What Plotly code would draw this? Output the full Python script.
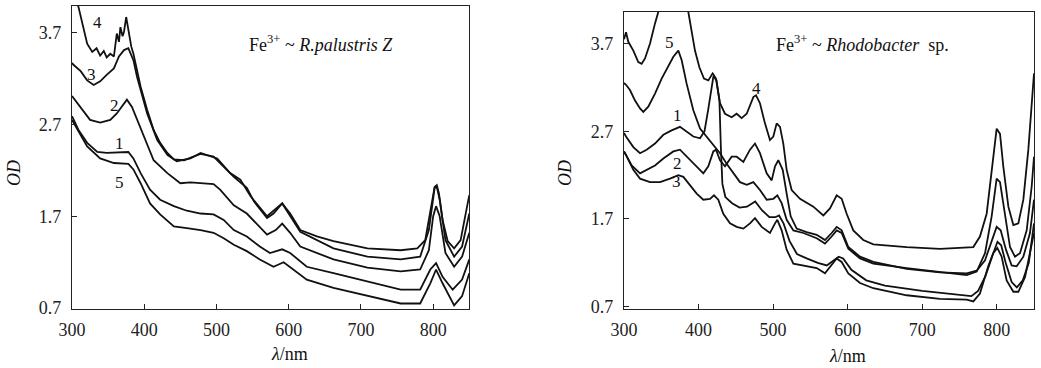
import plotly.graph_objects as go

# ---------------- Left panel: Fe3+ ~ R.palustris Z ----------------
L4_x = [300, 305, 309, 314, 321, 328, 334, 339, 344, 348, 353, 358, 362, 365, 367, 370, 372, 375, 378, 382, 385, 390, 395, 404, 413, 422, 432, 441, 455, 468, 478, 496, 505, 524, 542, 552, 570, 579, 591, 602, 616, 639, 662, 709, 755, 778, 789, 796, 802, 805, 808, 813, 820, 829, 838, 847, 850]
L4_y = [4.25, 4.05, 3.98, 3.80, 3.58, 3.49, 3.53, 3.45, 3.50, 3.43, 3.47, 3.44, 3.69, 3.60, 3.76, 3.66, 3.71, 3.87, 3.73, 3.55, 3.47, 3.29, 3.11, 2.86, 2.64, 2.50, 2.39, 2.32, 2.31, 2.35, 2.38, 2.35, 2.28, 2.13, 2.01, 1.86, 1.68, 1.73, 1.84, 1.73, 1.55, 1.48, 1.43, 1.35, 1.33, 1.35, 1.44, 1.73, 2.02, 2.04, 1.95, 1.66, 1.43, 1.35, 1.44, 1.81, 1.93]

L3_x = [300, 302, 312, 321, 330, 339, 348, 358, 365, 372, 378, 385, 390, 404, 418, 432, 445, 464, 478, 501, 519, 533, 547, 570, 591, 616, 662, 709, 755, 782, 794, 802, 805, 809, 817, 829, 840, 850]
L3_y = [3.37, 3.35, 3.28, 3.18, 3.13, 3.17, 3.24, 3.31, 3.44, 3.51, 3.53, 3.40, 3.22, 2.82, 2.53, 2.37, 2.30, 2.33, 2.39, 2.33, 2.17, 2.10, 1.92, 1.70, 1.84, 1.53, 1.35, 1.26, 1.23, 1.26, 1.55, 2.01, 2.02, 1.88, 1.44, 1.26, 1.37, 1.73]

L2_x = [300, 301, 312, 325, 339, 353, 362, 372, 376, 383, 390, 399, 413, 432, 450, 464, 478, 496, 505, 524, 542, 556, 570, 582, 591, 602, 616, 662, 709, 755, 782, 794, 800, 804, 809, 817, 829, 840, 850]
L2_y = [3.01, 3.00, 2.89, 2.75, 2.72, 2.75, 2.82, 2.93, 2.97, 2.89, 2.75, 2.57, 2.31, 2.17, 2.06, 2.07, 2.06, 2.05, 1.99, 1.82, 1.73, 1.62, 1.50, 1.55, 1.62, 1.52, 1.37, 1.23, 1.14, 1.10, 1.12, 1.33, 1.70, 1.81, 1.70, 1.30, 1.15, 1.26, 1.52]

L1_x = [300, 309, 321, 335, 348, 372, 378, 385, 395, 408, 422, 441, 459, 478, 496, 510, 524, 542, 560, 574, 591, 602, 625, 662, 709, 755, 782, 796, 804, 813, 827, 840, 850]
L1_y = [2.79, 2.64, 2.50, 2.40, 2.39, 2.40, 2.40, 2.33, 2.17, 1.99, 1.88, 1.81, 1.76, 1.73, 1.72, 1.66, 1.55, 1.48, 1.37, 1.30, 1.34, 1.30, 1.15, 1.08, 0.99, 0.90, 0.90, 1.12, 1.19, 1.04, 0.90, 1.01, 1.23]

L5_x = [300, 309, 321, 339, 358, 378, 385, 395, 408, 422, 441, 459, 478, 496, 510, 524, 542, 560, 579, 593, 607, 625, 662, 709, 755, 782, 796, 804, 813, 829, 840, 850]
L5_y = [2.75, 2.62, 2.46, 2.33, 2.28, 2.27, 2.21, 2.06, 1.84, 1.72, 1.59, 1.57, 1.55, 1.52, 1.46, 1.39, 1.32, 1.23, 1.15, 1.20, 1.12, 1.01, 0.92, 0.83, 0.75, 0.75, 0.97, 1.12, 0.97, 0.73, 0.83, 1.08]

# ---------------- Right panel: Fe3+ ~ Rhodobacter sp. ----------------
R4_x = [300, 302.7, 305.8, 312.5, 319.2, 323.7, 328.2, 334.9, 341.6, 346, 365, 375, 386.3, 390.8, 395.2, 401.1, 407.3, 413.1, 418.9, 423.4, 428.8, 435.5, 444.4, 451.1, 457.8, 464.6, 473.5, 477.1, 482.4, 489.1, 495.8, 500.3, 504.8, 509.3, 513.7, 518.2, 524.9, 536.1, 554, 567.4, 576.3, 585.3, 592, 598.7, 607.6, 621, 634.5, 679.2, 723.9, 768.6, 777.5, 786.5, 793.2, 799.9, 804.4, 808.8, 815.6, 822.3, 829, 835.7, 842.4, 846.9, 850]
R4_y = [3.75, 3.83, 3.72, 3.62, 3.49, 3.47, 3.53, 3.70, 3.93, 4.06, 4.40, 4.50, 4.06, 3.85, 3.62, 3.43, 3.30, 3.28, 3.36, 3.30, 3.02, 2.90, 2.86, 2.90, 2.85, 2.90, 3.09, 3.11, 3.02, 2.79, 2.60, 2.64, 2.79, 2.75, 2.56, 2.26, 2.03, 1.93, 1.84, 1.74, 1.82, 1.97, 1.93, 1.76, 1.57, 1.46, 1.41, 1.38, 1.36, 1.38, 1.50, 1.76, 2.22, 2.73, 2.67, 2.30, 1.84, 1.63, 1.65, 1.92, 2.49, 2.98, 3.36]

R5_x = [300, 302.7, 308, 314.8, 321.5, 325.9, 332.6, 341.6, 350.5, 359.5, 366.2, 372.9, 377.4, 384.1, 393, 402, 410.9, 419.8, 428.8, 437.7, 446.7, 455.6, 464.6, 473.5, 482.4, 491.4, 500.3, 505.7, 511.5, 518.2, 527.2, 540.6, 558.5, 569.6, 578.6, 585.3, 592, 600.9, 616.6, 634.5, 679.2, 723.9, 759.7, 773.1, 784.3, 793.2, 799.9, 804.4, 811.1, 817.8, 824.5, 831.2, 840.2, 846.9, 850]
R5_y = [3.25, 3.23, 3.17, 3.05, 2.96, 2.92, 2.98, 3.13, 3.30, 3.45, 3.55, 3.62, 3.51, 3.24, 2.94, 2.73, 2.64, 2.54, 2.45, 2.33, 2.22, 2.12, 2.09, 2.12, 2.03, 1.92, 1.93, 1.97, 1.88, 1.69, 1.57, 1.54, 1.48, 1.42, 1.50, 1.57, 1.54, 1.36, 1.25, 1.19, 1.14, 1.10, 1.06, 1.10, 1.31, 1.73, 2.16, 2.12, 1.73, 1.38, 1.27, 1.31, 1.57, 2.07, 2.41]

R2_x = [300, 302.7, 310.3, 321.5, 330.4, 341.6, 352.8, 366.2, 375.1, 384.1, 395.2, 406.4, 413.1, 419.8, 423.4, 428.8, 435.5, 444.4, 451.1, 460.1, 469, 475.7, 482.4, 491.4, 498.1, 502.6, 507, 512.9, 518.2, 523.6, 531.6, 545, 558.5, 569.6, 578.6, 585.3, 592, 600.9, 616.6, 634.5, 679.2, 723.9, 759.7, 773.1, 784.3, 793.2, 799.9, 805.3, 812.4, 820, 826.7, 835.7, 844.6, 850]
R2_y = [2.47, 2.43, 2.31, 2.22, 2.26, 2.31, 2.39, 2.47, 2.49, 2.41, 2.31, 2.22, 2.30, 2.47, 2.49, 2.37, 2.30, 2.41, 2.41, 2.35, 2.49, 2.56, 2.45, 2.22, 2.14, 2.30, 2.37, 2.26, 1.99, 1.73, 1.59, 1.55, 1.52, 1.46, 1.54, 1.61, 1.57, 1.38, 1.27, 1.21, 1.13, 1.09, 1.08, 1.11, 1.23, 1.46, 1.61, 1.57, 1.35, 1.17, 1.16, 1.27, 1.54, 1.92]

R1_x = [300, 302.7, 312.5, 321.5, 330.4, 341.6, 352.8, 363.9, 375.1, 384.1, 393, 402, 408, 413, 417, 420, 424, 428, 430, 432, 436, 445, 455, 465, 476, 485, 495, 503, 508, 514, 522, 532, 545, 560, 572, 580, 588, 594, 605, 625, 650, 700, 750, 766, 775, 785, 795, 801, 806, 812, 820, 827, 835, 843, 850]
R1_y = [2.68, 2.64, 2.52, 2.45, 2.49, 2.56, 2.66, 2.71, 2.75, 2.69, 2.64, 2.62, 2.70, 2.95, 3.20, 3.33, 3.28, 3.05, 2.50, 2.10, 1.95, 1.88, 1.83, 1.84, 1.90, 1.80, 1.72, 1.72, 1.74, 1.65, 1.45, 1.30, 1.25, 1.20, 1.17, 1.22, 1.27, 1.25, 1.12, 1.00, 0.94, 0.88, 0.84, 0.82, 0.88, 1.05, 1.30, 1.44, 1.40, 1.20, 0.98, 0.92, 1.00, 1.20, 1.65]

R3_x = [300, 302.7, 312.5, 321.5, 334.9, 348.3, 361.7, 372.9, 379.6, 388.5, 397.5, 406.4, 415.4, 420.7, 426.5, 433.2, 442.2, 451.1, 460.1, 469, 475.7, 484.7, 495.8, 502.6, 505.7, 511.5, 518.2, 527.2, 540.6, 558.5, 569.6, 578.6, 585.3, 592, 600.9, 616.6, 634.5, 679.2, 723.9, 759.7, 768.6, 777.5, 788.6, 795.3, 800.8, 806.6, 813.3, 822.3, 829, 838, 844.6, 850]
R3_y = [2.47, 2.43, 2.26, 2.16, 2.12, 2.12, 2.16, 2.20, 2.18, 2.09, 1.99, 1.92, 1.93, 1.97, 1.92, 1.76, 1.65, 1.61, 1.59, 1.65, 1.71, 1.61, 1.54, 1.65, 1.69, 1.57, 1.35, 1.19, 1.17, 1.14, 1.08, 1.17, 1.25, 1.21, 1.08, 0.97, 0.91, 0.83, 0.79, 0.78, 0.76, 0.85, 1.16, 1.31, 1.37, 1.27, 1.00, 0.87, 0.87, 1.04, 1.31, 1.54]

x_ticks = [300, 400, 500, 600, 700, 800]
y_ticks = [0.7, 1.7, 2.7, 3.7]
y_tick_text = ["0.7", "1.7", "2.7", "3.7"]

left_labels = [("4", 335.6, 3.815), ("3", 327.3, 3.247), ("2", 359.5, 2.91), ("1", 366.4, 2.497), ("5", 366.4, 2.07)]
right_labels = [("5", 361.7, 3.708), ("4", 478.0, 3.19), ("1", 372.4, 2.884), ("2", 372.0, 2.337), ("3", 369.8, 2.124)]

FONT = "Liberation Serif, Times New Roman, DejaVu Serif, serif"
LINE = dict(color="#111111", width=1.8)

fig = go.Figure()
for xs, ys in [(L4_x, L4_y), (L3_x, L3_y), (L2_x, L2_y), (L1_x, L1_y), (L5_x, L5_y)]:
    fig.add_trace(go.Scatter(x=xs, y=ys, mode="lines", line=LINE, xaxis="x", yaxis="y", showlegend=False))
for xs, ys in [(R4_x, R4_y), (R5_x, R5_y), (R2_x, R2_y), (R1_x, R1_y), (R3_x, R3_y)]:
    fig.add_trace(go.Scatter(x=xs, y=ys, mode="lines", line=LINE, xaxis="x2", yaxis="y2", showlegend=False))

axis_common = dict(showgrid=False, zeroline=False, showline=True, linecolor="#222", linewidth=1.2,
                   mirror=True, ticks="inside", ticklen=5, tickcolor="#222", automargin=False,
                   tickfont=dict(family=FONT, size=18, color="#222"))

fig.update_layout(
    width=1041, height=368,
    margin=dict(l=0, r=0, t=0, b=0, autoexpand=False),
    paper_bgcolor="white", plot_bgcolor="white",
    xaxis=dict(domain=[72/1041, 469.3/1041], range=[300, 850], tickvals=x_ticks, anchor="y", ticklabelstandoff=4, **axis_common),
    yaxis=dict(domain=[1-309/368, 1-6/368], range=[0.69, 3.99], tickvals=y_ticks, ticktext=y_tick_text, anchor="x", ticklabelstandoff=6, **axis_common),
    xaxis2=dict(domain=[624/1041, 1034/1041], range=[300, 850], tickvals=x_ticks, anchor="y2", ticklabelstandoff=4, **axis_common),
    yaxis2=dict(domain=[1-309.3/368, 1-12/368], range=[0.67, 4.06], tickvals=y_ticks, ticktext=y_tick_text, anchor="x2", ticklabelstandoff=6, **axis_common),
)

ann = []
for t, x, y in left_labels:
    ann.append(dict(text=t, x=x, y=y, xref="x", yref="y", showarrow=False, font=dict(family=FONT, size=17, color="#111")))
for t, x, y in right_labels:
    ann.append(dict(text=t, x=x, y=y, xref="x2", yref="y2", showarrow=False, font=dict(family=FONT, size=17, color="#111")))

ann.append(dict(text="Fe<sup>3+</sup> ~ <i>R.palustris Z</i>", x=644.5, y=3.58, xref="x", yref="y",
                showarrow=False, font=dict(family=FONT, size=18, color="#111")))
ann.append(dict(text="Fe<sup>3+</sup> ~ <i>Rhodobacter</i>  sp.", x=620.6, y=3.70, xref="x2", yref="y2",
                showarrow=False, font=dict(family=FONT, size=18, color="#111")))

for px, py in [(14, 173), (565, 173)]:
    ann.append(dict(text="<i>OD</i>", x=px/1041, y=1-py/368, xref="paper", yref="paper", textangle=-90,
                    xanchor="center", yanchor="middle",
                    showarrow=False, font=dict(family=FONT, size=18, color="#111")))
for px, py in [(289, 354), (847, 356)]:
    ann.append(dict(text="<i>λ</i>/nm", x=px/1041, y=1-py/368, xref="paper", yref="paper",
                    xanchor="center", yanchor="middle",
                    showarrow=False, font=dict(family=FONT, size=18, color="#111")))

fig.update_layout(annotations=ann)
fig.write_html("out.html", config={"displayModeBar": False},
               post_script="document.body.style.margin='0';document.body.style.overflow='hidden';")
